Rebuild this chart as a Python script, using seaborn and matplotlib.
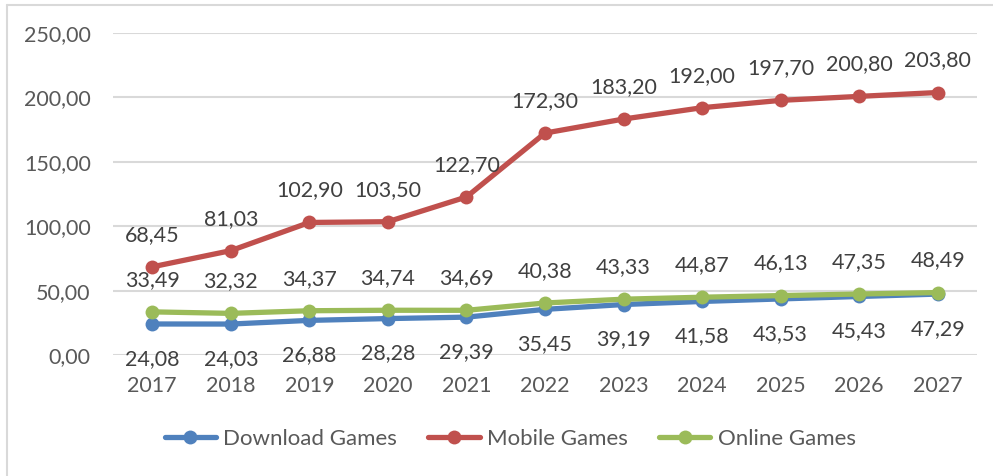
import pandas as pd
import matplotlib.pyplot as plt
import seaborn as sb
from matplotlib.lines import Line2D

years = [2017, 2018, 2019, 2020, 2021, 2022, 2023, 2024, 2025, 2026, 2027]
download = [24.08, 24.03, 26.88, 28.28, 29.39, 35.45, 39.19, 41.58, 43.53, 45.43, 47.29]
mobile = [68.45, 81.03, 102.90, 103.50, 122.70, 172.30, 183.20, 192.00, 197.70, 200.80, 203.80]
online = [33.49, 32.32, 34.37, 34.74, 34.69, 40.38, 43.33, 44.87, 46.13, 47.35, 48.49]

series = ["Download Games", "Mobile Games", "Online Games"]
colores = {"Download Games": "#4F81BD", "Mobile Games": "#C0504D", "Online Games": "#9BBB59"}

df = pd.DataFrame({"Year": years, "Download Games": download,
                   "Mobile Games": mobile, "Online Games": online})
df_long = df.melt(id_vars="Year", var_name="Serie", value_name="Valor")

sb.set_style("white")
plt.rcParams['font.family'] = ['Lato', 'DejaVu Sans']

fig = plt.figure(figsize=(9.93, 4.76), dpi=100)
ax = fig.add_axes([113/993, 121/476, 864/993, 322/476])

sb.lineplot(data=df_long, x="Year", y="Valor", hue="Serie", hue_order=series,
            palette=colores, marker="o", markersize=10, markeredgewidth=0,
            linewidth=3.8, legend=False, ax=ax, zorder=3)

# etiquetas de datos
for nombre, valores in [("Download Games", download), ("Mobile Games", mobile), ("Online Games", online)]:
    desp = -35 if nombre == "Download Games" else 32
    for x, v in zip(years, valores):
        ax.annotate(f"{v:.2f}".replace(".", ","), (x, v), xytext=(0, desp),
                    textcoords="offset pixels", ha="center", va="center",
                    fontsize=15.5, color="#404040", zorder=5)

ax.set_xlim(2016.5, 2027.5)
ax.set_ylim(0, 250)
ax.set_yticks([0, 50, 100, 150, 200, 250])
ax.set_yticklabels([f"{t:.2f}".replace(".", ",") for t in [0, 50, 100, 150, 200, 250]])
ax.set_xticks(years)
ax.set_xticklabels([str(y) for y in years])
ax.tick_params(axis="both", length=0, labelsize=15.5, labelcolor="#595959")
ax.tick_params(axis="y", pad=16)
ax.tick_params(axis="x", pad=15)
ax.set_xlabel("")
ax.set_ylabel("")
ax.grid(axis="y", color="#D9D9D9", linewidth=1.5)
ax.set_axisbelow(True)
for s in ax.spines.values():
    s.set_visible(False)

handles = [Line2D([0], [0], color=colores[n], linewidth=3.8, marker="o", markersize=10,
                  markeredgewidth=0) for n in series]
leg = fig.legend(handles, series, loc="center", bbox_to_anchor=(0.514, 37/476), ncol=3,
                 frameon=False, fontsize=16, handlelength=2.3, handletextpad=0.35,
                 columnspacing=1.4)
for t in leg.get_texts():
    t.set_color("#595959")

# borde del área del gráfico
fig.add_artist(Line2D([7/993, 7/993], [0, 1 - 5/476], color="#D9D9D9", linewidth=1.5,
                      transform=fig.transFigure))
fig.add_artist(Line2D([7/993, 1], [1 - 5/476, 1 - 5/476], color="#D9D9D9", linewidth=1.5,
                      transform=fig.transFigure))

fig.savefig("out.png", dpi=100)
